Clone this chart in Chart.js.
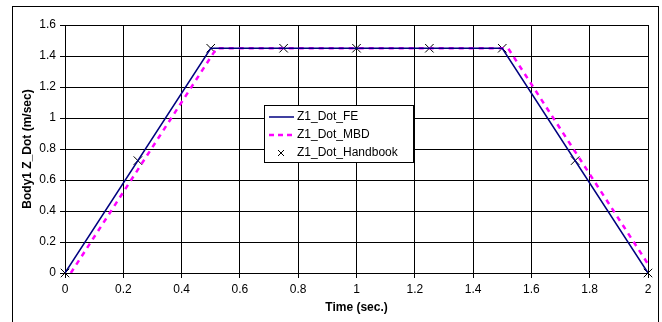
<!DOCTYPE html>
<html>
<head>
<meta charset="utf-8">
<script src="https://cdn.jsdelivr.net/npm/chart.js@4"></script>
<style>
  html, body { margin: 0; padding: 0; background: #fff; }
  #wrap { width: 662px; height: 322px; }
</style>
</head>
<body>
<div id="wrap"><canvas id="myChart"></canvas></div>
<script>
const feTime = [0, 0.5, 1.5, 2];
const feVals = [0, 1.45, 1.45, 0];
const mbdTime = [0.02, 0.52, 1.52, 2.02];
const mbdVals = [0, 1.45, 1.45, 0];
const hbTime = [0, 0.25, 0.5, 0.75, 1, 1.25, 1.5, 1.75, 2];
const hbVals = [0, 0.725, 1.45, 1.45, 1.45, 1.45, 1.45, 0.725, 0];

const toPts = (xs, ys) => xs.map((x, i) => ({ x: x, y: ys[i] }));
const ctx = document.getElementById('myChart');
const fam = '"Liberation Sans", Arial, sans-serif';
const tickFmt = v => String(Math.round(v * 10) / 10);

// outer frame like the spreadsheet chart border
const frame = {
  id: 'frame',
  beforeDraw(chart) {
    const c = chart.ctx;
    c.save();
    c.fillStyle = '#fff';
    c.fillRect(0, 0, chart.width, chart.height);
    c.strokeStyle = '#000';
    c.lineWidth = 1;
    c.strokeRect(12.5, 6.5, 646, 320);
    c.restore();
  }
};

// legend box sitting inside the plot
const boxLegend = {
  id: 'boxLegend',
  afterDraw(chart) {
    const c = chart.ctx;
    const x = 264, y = 105, w = 149, h = 57;
    c.save();
    c.fillStyle = '#fff';
    c.fillRect(x, y, w, h);
    c.strokeStyle = '#000';
    c.lineWidth = 1;
    c.strokeRect(x + 0.5, y + 0.5, w, h);
    c.font = '12px ' + fam;
    c.textBaseline = 'middle';
    c.fillStyle = '#000';
    const rows = [117, 135, 153];
    c.strokeStyle = '#000080';
    c.lineWidth = 1.5;
    c.beginPath(); c.moveTo(269, rows[0]); c.lineTo(294, rows[0]); c.stroke();
    c.strokeStyle = '#ff00ff';
    c.lineWidth = 2.5;
    c.setLineDash([5, 4]);
    c.beginPath(); c.moveTo(269, rows[1]); c.lineTo(294, rows[1]); c.stroke();
    c.setLineDash([]);
    c.strokeStyle = '#000';
    c.lineWidth = 1;
    c.beginPath();
    c.moveTo(278, rows[2] - 3); c.lineTo(284, rows[2] + 3);
    c.moveTo(284, rows[2] - 3); c.lineTo(278, rows[2] + 3);
    c.stroke();
    chart.data.datasets.forEach((d, i) => c.fillText(d.label, 297, rows[i]));
    c.restore();
  }
};

new Chart(ctx, {
  type: 'scatter',
  data: {
    datasets: [{
      label: 'Z1_Dot_FE',
      data: toPts(feTime, feVals),
      showLine: true,
      borderColor: '#000080',
      borderWidth: 1.5,
      pointRadius: 0,
      fill: false
    }, {
      label: 'Z1_Dot_MBD',
      data: toPts(mbdTime, mbdVals),
      showLine: true,
      borderColor: '#ff00ff',
      borderWidth: 2.5,
      borderDash: [5, 5],
      pointRadius: 0,
      fill: false
    }, {
      label: 'Z1_Dot_Handbook',
      data: toPts(hbTime, hbVals),
      showLine: false,
      pointStyle: 'crossRot',
      pointRadius: 6,
      borderColor: '#000',
      backgroundColor: '#000',
      borderWidth: 1,
      clip: false
    }]
  },
  plugins: [frame, boxLegend],
  options: {
    responsive: true,
    maintainAspectRatio: false,
    animation: false,
    layout: { padding: { left: 16, right: 14, top: 25, bottom: 3 } },
    plugins: { legend: { display: false }, tooltip: { enabled: false } },
    scales: {
      x: {
        type: 'linear',
        min: 0, max: 2,
        afterFit: s => { s.height = 46; },
        ticks: { stepSize: 0.2, color: '#000', padding: 4, callback: tickFmt,
          font: { family: fam, size: 12 } },
        grid: { color: '#000', lineWidth: 1, tickLength: 5 },
        border: { color: '#000' },
        title: { display: true, text: 'Time (sec.)', color: '#000', padding: { top: 2 },
          font: { family: fam, size: 12, weight: 'bold' } }
      },
      y: {
        min: 0, max: 1.6,
        afterFit: s => { s.width = 49; },
        ticks: { stepSize: 0.2, color: '#000', padding: 4, callback: tickFmt,
          font: { family: fam, size: 12 } },
        grid: { color: '#000', lineWidth: 1, tickLength: 5 },
        border: { color: '#000' },
        title: { display: true, text: 'Body1 Z_Dot (m/sec)', color: '#000', padding: { bottom: 2 },
          font: { family: fam, size: 12, weight: 'bold' } }
      }
    }
  }
});
</script>
</body>
</html>
